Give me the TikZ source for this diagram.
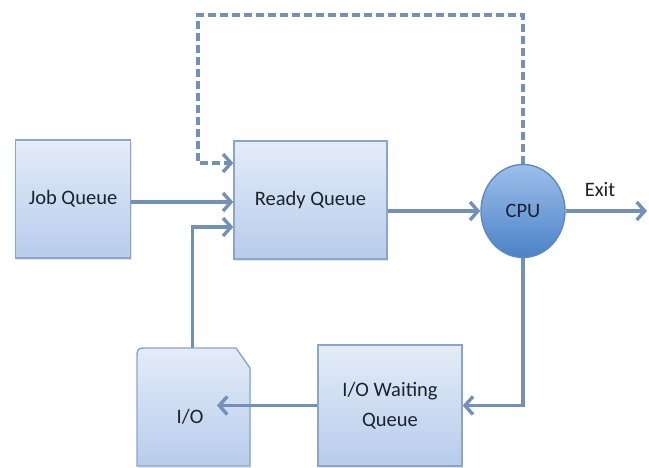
\documentclass[tikz,border=0pt]{standalone}
\usepackage{fontspec}
\setmainfont{Carlito}
\usetikzlibrary{arrows.meta,shapes.geometric,shadows}
\definecolor{boxtop}{HTML}{E4ECF8}
\definecolor{boxbot}{HTML}{B7CCEB}
\definecolor{boxline}{HTML}{8AA6CC}
\definecolor{arrcol}{HTML}{7290B8}
\definecolor{cputop}{HTML}{9DBFEA}
\definecolor{cpubot}{HTML}{4B82C7}
\definecolor{cpuline}{HTML}{5D8AC2}
\definecolor{txt}{HTML}{1A222D}
\begin{document}
\begin{tikzpicture}[x=1pt,y=-1pt,
  every node/.style={text=txt, font=\fontsize{20.5}{30}\selectfont},
  qbox/.style={draw=boxline, line width=1.4pt, top color=boxtop, bottom color=boxbot,
    inner sep=0pt, align=center, drop shadow={opacity=0.2, shadow xshift=1pt, shadow yshift=-2pt}},
  cpubox/.style={ellipse, draw=cpuline, line width=1.4pt, top color=cputop, bottom color=cpubot,
    inner sep=0pt, minimum width=84pt, minimum height=93pt},
  arr/.style={draw=arrcol, line width=3.4pt, -{Straight Barb[length=8pt,width=18pt]}},
  dasharr/.style={arr, dash pattern=on 8pt off 4pt}
]
\useasboundingbox (0,0) rectangle (649,468);

\node[qbox, minimum width=115pt, minimum height=118pt] (job) at (73,199) {Job Queue};
\node[qbox, minimum width=153pt, minimum height=118pt] (ready) at (310.5,200) {Ready Queue};
\node[cpubox] (cpu) at (523,211) {CPU};
\node[qbox, minimum width=144pt, minimum height=121pt] (iow) at (390,405.5) {I/O Waiting\\Queue};

% I/O shape
\path[draw=boxline, line width=1.4pt, top color=boxtop, bottom color=boxbot,
  drop shadow={opacity=0.2, shadow xshift=1pt, shadow yshift=-2pt}]
  (137,466) -- (137,360) .. controls (137,348) .. (149,348) -- (236,348) -- (250,368) -- (250,466) -- cycle;
\node (io) at (190,417) {I/O};
\coordinate (iotop) at (192.5,348);
\coordinate (dashtop) at (198,15);
\coordinate (exitend) at (647,211);
\coordinate (iotip) at (217,405.5);

\node (exit) at (600,190) {Exit};

% connectors
\draw[arr] (job.east |- 0,202) -- (ready.west |- 0,202);
\draw[arr] (ready.east |- cpu) -- (cpu);
\draw[arr] (cpu.east) -- (exitend);
\draw[dasharr] (cpu.north) -- (cpu.north |- dashtop) -- (dashtop) -- (dashtop |- 0,163) -- (ready.west |- 0,163);
\draw[arr] (iotop) -- (iotop |- 0,227) -- (ready.west |- 0,227);
\draw[arr] (cpu.south) -- (cpu.south |- iow) -- (iow.east);
\draw[arr] (iow.west) -- (iotip);
\end{tikzpicture}
\end{document}
